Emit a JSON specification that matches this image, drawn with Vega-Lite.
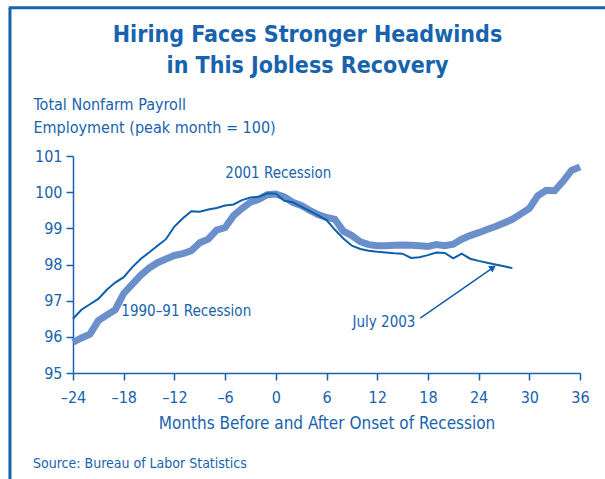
{
  "$schema": "https://vega.github.io/schema/vega-lite/v6.json",
  "autosize": {"type": "none"},
  "width": 507,
  "height": 217,
  "padding": {"left": 73, "top": 156, "right": 25, "bottom": 106},
  "background": "white",
  "title": {
    "text": ["Hiring Faces Stronger Headwinds", "in This Jobless Recovery"],
    "fontSize": 23,
    "fontWeight": "bold",
    "color": "#1763ad",
    "lineHeight": 31,
    "anchor": "middle",
    "dx": -19,
    "offset": -72
  },
  "datasets": {
    "payroll": [
      {"series": "1990", "month": -24, "index": 95.85},
      {"series": "1990", "month": -23, "index": 95.97},
      {"series": "1990", "month": -22, "index": 96.07},
      {"series": "1990", "month": -21, "index": 96.45},
      {"series": "1990", "month": -20, "index": 96.6},
      {"series": "1990", "month": -19, "index": 96.75},
      {"series": "1990", "month": -18, "index": 97.2},
      {"series": "1990", "month": -17, "index": 97.45},
      {"series": "1990", "month": -16, "index": 97.7},
      {"series": "1990", "month": -15, "index": 97.9},
      {"series": "1990", "month": -14, "index": 98.05},
      {"series": "1990", "month": -13, "index": 98.15},
      {"series": "1990", "month": -12, "index": 98.25},
      {"series": "1990", "month": -11, "index": 98.3},
      {"series": "1990", "month": -10, "index": 98.38},
      {"series": "1990", "month": -9, "index": 98.6},
      {"series": "1990", "month": -8, "index": 98.7},
      {"series": "1990", "month": -7, "index": 98.95},
      {"series": "1990", "month": -6, "index": 99.02},
      {"series": "1990", "month": -5, "index": 99.35},
      {"series": "1990", "month": -4, "index": 99.55},
      {"series": "1990", "month": -3, "index": 99.72},
      {"series": "1990", "month": -2, "index": 99.8},
      {"series": "1990", "month": -1, "index": 99.93},
      {"series": "1990", "month": 0, "index": 99.95},
      {"series": "1990", "month": 1, "index": 99.87},
      {"series": "1990", "month": 2, "index": 99.72},
      {"series": "1990", "month": 3, "index": 99.63},
      {"series": "1990", "month": 4, "index": 99.5},
      {"series": "1990", "month": 5, "index": 99.38},
      {"series": "1990", "month": 6, "index": 99.3},
      {"series": "1990", "month": 7, "index": 99.25},
      {"series": "1990", "month": 8, "index": 98.92},
      {"series": "1990", "month": 9, "index": 98.8},
      {"series": "1990", "month": 10, "index": 98.63},
      {"series": "1990", "month": 11, "index": 98.55},
      {"series": "1990", "month": 12, "index": 98.52},
      {"series": "1990", "month": 13, "index": 98.52},
      {"series": "1990", "month": 14, "index": 98.53},
      {"series": "1990", "month": 15, "index": 98.54},
      {"series": "1990", "month": 16, "index": 98.53},
      {"series": "1990", "month": 17, "index": 98.52},
      {"series": "1990", "month": 18, "index": 98.5},
      {"series": "1990", "month": 19, "index": 98.55},
      {"series": "1990", "month": 20, "index": 98.52},
      {"series": "1990", "month": 21, "index": 98.56},
      {"series": "1990", "month": 22, "index": 98.7},
      {"series": "1990", "month": 23, "index": 98.8},
      {"series": "1990", "month": 24, "index": 98.88},
      {"series": "1990", "month": 25, "index": 98.97},
      {"series": "1990", "month": 26, "index": 99.05},
      {"series": "1990", "month": 27, "index": 99.15},
      {"series": "1990", "month": 28, "index": 99.25},
      {"series": "1990", "month": 29, "index": 99.4},
      {"series": "1990", "month": 30, "index": 99.55},
      {"series": "1990", "month": 31, "index": 99.9},
      {"series": "1990", "month": 32, "index": 100.05},
      {"series": "1990", "month": 33, "index": 100.04},
      {"series": "1990", "month": 34, "index": 100.3},
      {"series": "1990", "month": 35, "index": 100.6},
      {"series": "1990", "month": 36, "index": 100.7},
      {"series": "2001", "month": -24, "index": 96.5},
      {"series": "2001", "month": -23, "index": 96.75},
      {"series": "2001", "month": -22, "index": 96.9},
      {"series": "2001", "month": -21, "index": 97.05},
      {"series": "2001", "month": -20, "index": 97.3},
      {"series": "2001", "month": -19, "index": 97.5},
      {"series": "2001", "month": -18, "index": 97.65},
      {"series": "2001", "month": -17, "index": 97.92},
      {"series": "2001", "month": -16, "index": 98.15},
      {"series": "2001", "month": -15, "index": 98.33},
      {"series": "2001", "month": -14, "index": 98.52},
      {"series": "2001", "month": -13, "index": 98.7},
      {"series": "2001", "month": -12, "index": 99.05},
      {"series": "2001", "month": -11, "index": 99.28},
      {"series": "2001", "month": -10, "index": 99.47},
      {"series": "2001", "month": -9, "index": 99.46},
      {"series": "2001", "month": -8, "index": 99.52},
      {"series": "2001", "month": -7, "index": 99.56},
      {"series": "2001", "month": -6, "index": 99.63},
      {"series": "2001", "month": -5, "index": 99.66},
      {"series": "2001", "month": -4, "index": 99.78},
      {"series": "2001", "month": -3, "index": 99.85},
      {"series": "2001", "month": -2, "index": 99.87},
      {"series": "2001", "month": -1, "index": 99.97},
      {"series": "2001", "month": 0, "index": 99.96},
      {"series": "2001", "month": 1, "index": 99.76},
      {"series": "2001", "month": 2, "index": 99.72},
      {"series": "2001", "month": 3, "index": 99.6},
      {"series": "2001", "month": 4, "index": 99.48},
      {"series": "2001", "month": 5, "index": 99.36},
      {"series": "2001", "month": 6, "index": 99.23},
      {"series": "2001", "month": 7, "index": 98.96},
      {"series": "2001", "month": 8, "index": 98.72},
      {"series": "2001", "month": 9, "index": 98.52},
      {"series": "2001", "month": 10, "index": 98.43},
      {"series": "2001", "month": 11, "index": 98.38},
      {"series": "2001", "month": 12, "index": 98.35},
      {"series": "2001", "month": 13, "index": 98.33},
      {"series": "2001", "month": 14, "index": 98.31},
      {"series": "2001", "month": 15, "index": 98.3},
      {"series": "2001", "month": 16, "index": 98.18},
      {"series": "2001", "month": 17, "index": 98.2},
      {"series": "2001", "month": 18, "index": 98.26},
      {"series": "2001", "month": 19, "index": 98.33},
      {"series": "2001", "month": 20, "index": 98.32},
      {"series": "2001", "month": 21, "index": 98.17},
      {"series": "2001", "month": 22, "index": 98.3},
      {"series": "2001", "month": 23, "index": 98.16},
      {"series": "2001", "month": 24, "index": 98.1},
      {"series": "2001", "month": 25, "index": 98.05},
      {"series": "2001", "month": 26, "index": 98.0},
      {"series": "2001", "month": 27, "index": 97.95},
      {"series": "2001", "month": 28, "index": 97.9}
    ]
  },
  "layer": [
    {
      "data": {"name": "payroll"},
      "transform": [{"filter": "datum.series == '1990'"}],
      "mark": {"type": "line", "stroke": "#6a8fcb", "strokeWidth": 7, "strokeJoin": "miter", "strokeCap": "butt"},
      "encoding": {
        "x": {
          "field": "month",
          "type": "quantitative",
          "scale": {"domain": [-24, 36], "nice": false, "zero": false},
          "axis": {
            "values": [-24, -18, -12, -6, 0, 6, 12, 18, 24, 30, 36],
            "labelExpr": "datum.value < 0 ? '\u2013' + abs(datum.value) : '' + datum.value",
            "title": "Months Before and After Onset of Recession",
            "titleFontSize": 17,
            "titleFontWeight": "normal",
            "titlePadding": 10,
            "labelPadding": 9
          }
        },
        "y": {
          "field": "index",
          "type": "quantitative",
          "scale": {"domain": [95, 101], "nice": false, "zero": false},
          "axis": {
            "values": [95, 96, 97, 98, 99, 100, 101],
            "title": ["Total Nonfarm Payroll", "Employment (peak month = 100)"],
            "titleAngle": 0,
            "titleAlign": "left",
            "titleBaseline": "top",
            "titleX": -40,
            "titleY": -60,
            "titleFontSize": 16,
            "titleFontWeight": "normal",
            "titleLineHeight": 23,
            "labelPadding": 4
          }
        }
      }
    },
    {
      "data": {"name": "payroll"},
      "transform": [{"filter": "datum.series == '2001'"}],
      "mark": {"type": "line", "stroke": "#0d5fab", "strokeWidth": 2},
      "encoding": {
        "x": {"field": "month", "type": "quantitative", "axis": {"values": [-24, -18, -12, -6, 0, 6, 12, 18, 24, 30, 36]}},
        "y": {"field": "index", "type": "quantitative", "axis": {"values": [95, 96, 97, 98, 99, 100, 101]}}
      }
    },
    {
      "data": {"values": [{"label": "2001 Recession"}]},
      "mark": {"type": "text", "fontSize": 15, "color": "#1763ad", "align": "center", "baseline": "middle"},
      "encoding": {"x": {"datum": 0.3, "type": "quantitative", "axis": {"values": [-24, -18, -12, -6, 0, 6, 12, 18, 24, 30, 36]}}, "y": {"datum": 100.53, "type": "quantitative", "axis": {"values": [95, 96, 97, 98, 99, 100, 101]}}, "text": {"field": "label", "type": "nominal"}}
    },
    {
      "data": {"values": [{"label": "1990\u201391 Recession"}]},
      "mark": {"type": "text", "fontSize": 15, "color": "#1763ad", "align": "center", "baseline": "middle"},
      "encoding": {"x": {"datum": -10.6, "type": "quantitative", "axis": {"values": [-24, -18, -12, -6, 0, 6, 12, 18, 24, 30, 36]}}, "y": {"datum": 96.71, "type": "quantitative", "axis": {"values": [95, 96, 97, 98, 99, 100, 101]}}, "text": {"field": "label", "type": "nominal"}}
    },
    {
      "data": {"values": [{"label": "July 2003"}]},
      "mark": {"type": "text", "fontSize": 15, "color": "#1763ad", "align": "center", "baseline": "middle"},
      "encoding": {"x": {"datum": 12.8, "type": "quantitative", "axis": {"values": [-24, -18, -12, -6, 0, 6, 12, 18, 24, 30, 36]}}, "y": {"datum": 96.41, "type": "quantitative", "axis": {"values": [95, 96, 97, 98, 99, 100, 101]}}, "text": {"field": "label", "type": "nominal"}}
    },
    {
      "data": {"values": [{"a": 1}]},
      "mark": {"type": "rule", "color": "#0d5fab", "strokeWidth": 1.5},
      "encoding": {"x": {"datum": 17.1, "type": "quantitative", "axis": {"values": [-24, -18, -12, -6, 0, 6, 12, 18, 24, 30, 36]}}, "y": {"datum": 96.52, "type": "quantitative", "axis": {"values": [95, 96, 97, 98, 99, 100, 101]}}, "x2": {"datum": 25.5}, "y2": {"datum": 97.88}}
    },
    {
      "data": {"values": [{"a": 1}]},
      "mark": {"type": "point", "shape": "triangle", "filled": true, "color": "#0d5fab", "size": 60, "angle": 56, "opacity": 1},
      "encoding": {"x": {"datum": 25.6, "type": "quantitative", "axis": {"values": [-24, -18, -12, -6, 0, 6, 12, 18, 24, 30, 36]}}, "y": {"datum": 97.9, "type": "quantitative", "axis": {"values": [95, 96, 97, 98, 99, 100, 101]}}}
    },
    {
      "data": {"values": [{"label": "Source: Bureau of Labor Statistics"}]},
      "mark": {"type": "text", "fontSize": 14, "color": "#1763ad", "align": "left", "baseline": "alphabetic"},
      "encoding": {"x": {"datum": -28.73, "type": "quantitative", "axis": {"values": [-24, -18, -12, -6, 0, 6, 12, 18, 24, 30, 36]}}, "y": {"datum": 92.37, "type": "quantitative", "axis": {"values": [95, 96, 97, 98, 99, 100, 101]}}, "text": {"field": "label", "type": "nominal"}}
    },
    {
      "data": {"values": [{"a": 1}]},
      "mark": {"type": "rule", "color": "#1763ad", "strokeWidth": 3, "clip": false},
      "encoding": {"x": {"datum": -31.46, "type": "quantitative", "axis": {"values": [-24, -18, -12, -6, 0, 6, 12, 18, 24, 30, 36]}}, "y": {"datum": 92.0, "type": "quantitative", "axis": {"values": [95, 96, 97, 98, 99, 100, 101]}}, "y2": {"datum": 105.1}}
    },
    {
      "data": {"values": [{"a": 1}]},
      "mark": {"type": "rule", "color": "#1763ad", "strokeWidth": 3, "clip": false},
      "encoding": {"x": {"datum": -31.6, "type": "quantitative", "axis": {"values": [-24, -18, -12, -6, 0, 6, 12, 18, 24, 30, 36]}}, "x2": {"datum": 39.5}, "y": {"datum": 105.1, "type": "quantitative", "axis": {"values": [95, 96, 97, 98, 99, 100, 101]}}}
    }
  ],
  "config": {
    "font": "DejaVu Sans Condensed, sans-serif",
    "view": {"stroke": null},
    "axis": {
      "grid": false,
      "domainColor": "#1763ad",
      "domainWidth": 1.5,
      "tickColor": "#1763ad",
      "tickWidth": 1.5,
      "tickSize": 7,
      "labelColor": "#1763ad",
      "titleColor": "#1763ad",
      "labelFontSize": 16,
      "labelOverlap": false,
      "labelBound": false,
      "labelFlush": false
    }
  }
}
